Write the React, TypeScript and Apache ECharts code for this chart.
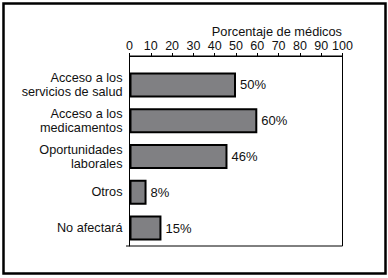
import React, { useEffect, useRef } from "react";
import * as echarts from "echarts";

const categories = [
  "Acceso a los\nservicios de salud",
  "Acceso a los\nmedicamentos",
  "Oportunidades\nlaborales",
  "Otros",
  "No afectará",
];
const values = [50, 60, 46, 8, 15];
const axisTitle = "Porcentaje de médicos";
const xMin = 0;
const xMax = 100;
const xStep = 10;

const FONT = "'Liberation Sans', Arial, sans-serif";

export default function App() {
  const ref = useRef<HTMLDivElement>(null);
  useEffect(() => {
    if (!ref.current) return;
    const chart = echarts.init(ref.current, null, { renderer: "svg" });
    chart.setOption({
      animation: false,
      backgroundColor: "#ffffff",
      textStyle: { fontFamily: FONT },
      title: {
        text: axisTitle,
        right: 41,
        top: 20,
        textStyle: { fontFamily: FONT, fontSize: 12.8, fontWeight: "normal", color: "#111" },
      },
      grid: { left: 129.5, right: 45.5, top: 67, height: 179, containLabel: false },
      xAxis: {
        type: "value",
        position: "top",
        offset: 11,
        min: xMin,
        max: xMax,
        interval: xStep,
        axisLine: { show: true, lineStyle: { color: "#000", width: 1 } },
        axisTick: { show: true, length: 3, lineStyle: { color: "#000" } },
        axisLabel: { fontFamily: FONT, fontSize: 12.5, color: "#111", margin: 4 },
        splitLine: { show: false },
      },
      yAxis: {
        type: "category",
        data: categories,
        inverse: true,
        axisLine: { show: true, lineStyle: { color: "#000", width: 1 } },
        axisTick: { show: false },
        axisLabel: {
          fontFamily: FONT,
          fontSize: 12.7,
          color: "#111",
          margin: 7,
          lineHeight: 14,
          align: "right",
        },
      },
      graphic: [
        {
          type: "rect",
          shape: { x: 129.5, y: 56, width: 213, height: 190 },
          style: { fill: "none", stroke: "#000", lineWidth: 1 },
          silent: true,
          z: 10,
        },
        {
          type: "line",
          shape: { x1: 126, y1: 246, x2: 129.5, y2: 246 },
          style: { stroke: "#000", lineWidth: 1 },
          silent: true,
        },
        {
          type: "rect",
          shape: { x: 3.5, y: 3.5, width: 382, height: 270 },
          style: { fill: "none", stroke: "#000", lineWidth: 2.5 },
          silent: true,
        },
      ],
      series: [
        {
          type: "bar",
          data: values,
          barWidth: 25,
          itemStyle: { color: "#808083", borderColor: "#000", borderWidth: 2 },
          label: {
            show: true,
            position: "right",
            distance: 4,
            formatter: "{c}%",
            fontFamily: FONT,
            fontSize: 13,
            color: "#111",
          },
        },
      ],
    });
    return () => chart.dispose();
  }, []);
  return (
    <div
      ref={ref}
      style={{ position: "fixed", left: 0, top: 0, width: 388, height: 278, background: "#fff" }}
    />
  );
}
